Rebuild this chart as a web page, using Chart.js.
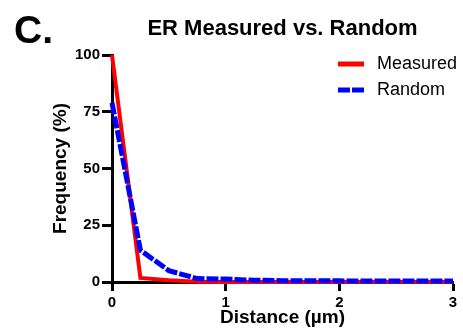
<!DOCTYPE html>
<html lang="en">

<head>
    <meta charset="UTF-8">
    <title>ER Measured vs. Random</title>
    <script src="https://cdn.jsdelivr.net/npm/chart.js"></script>
    <style>
        html, body {
            margin: 0;
            padding: 0;
            background: #fff;
        }
        #wrap {
            width: 463px;
            height: 331px;
        }
    </style>
</head>

<body>
    <div id="wrap"><canvas id="chart" width="463" height="331"></canvas></div>

    <script>
        const FONT = "'Liberation Sans', Arial, sans-serif";

        // distance bins (µm)
        const distances = [0, 0.25, 0.5, 0.75, 1, 1.25, 1.5, 1.75, 2, 2.25, 2.5, 2.75, 3];
        // frequency (%)
        const measured = [100, 1.8, 0.8, 0.1, 0, 0, 0, 0, 0, 0, 0, 0, 0];
        const random = [79, 14, 5, 1.5, 1.3, 0.8, 0.6, 0.5, 0.5, 0.4, 0.4, 0.4, 0.4];

        const xTicks = [0, 1, 2, 3];
        const yTicks = [0, 25, 50, 75, 100];

        const panelLabel = 'C.';
        const chartTitle = 'ER Measured vs. Random';

        const toPoints = vals => distances.map((d, i) => ({ x: d, y: vals[i] }));

        // title, panel letter and legend drawn on top of the chart
        const annotations = {
            id: 'annotations',
            afterDraw(chart) {
                const ctx = chart.ctx;
                const area = chart.chartArea;
                ctx.save();
                ctx.fillStyle = '#000';
                ctx.textBaseline = 'alphabetic';

                ctx.font = 'bold 39px ' + FONT;
                ctx.textAlign = 'left';
                ctx.fillText(panelLabel, 14, 43);

                ctx.font = 'bold 22px ' + FONT;
                ctx.textAlign = 'center';
                ctx.fillText(chartTitle, (area.left + area.right) / 2, 35);

                // legend
                chart.data.datasets.forEach((ds, i) => {
                    const y = 64 + i * 26;
                    ctx.beginPath();
                    ctx.strokeStyle = ds.borderColor;
                    ctx.lineWidth = 5;
                    ctx.lineCap = 'butt';
                    ctx.setLineDash(ds.borderDash || []);
                    ctx.moveTo(338, y);
                    ctx.lineTo(364, y);
                    ctx.stroke();
                    ctx.setLineDash([]);
                    ctx.font = '18px ' + FONT;
                    ctx.textAlign = 'left';
                    ctx.textBaseline = 'middle';
                    ctx.fillStyle = '#000';
                    ctx.fillText(ds.label, 377, y);
                });
                ctx.restore();
            }
        };

        const chart = new Chart(document.getElementById('chart'), {
            type: 'line',
            data: {
                datasets: [{
                    label: 'Measured',
                    data: toPoints(measured),
                    borderColor: '#ff0000',
                    borderWidth: 4,
                    borderJoinStyle: 'miter',
                    pointRadius: 0,
                    tension: 0,
                    fill: false,
                    clip: 10,
                    order: 2
                }, {
                    label: 'Random',
                    data: toPoints(random),
                    borderColor: '#0000ff',
                    borderWidth: 5,
                    borderDash: [12, 2],
                    borderJoinStyle: 'miter',
                    pointRadius: 0,
                    tension: 0,
                    fill: false,
                    clip: 10,
                    order: 1
                }]
            },
            options: {
                responsive: false,
                animation: false,
                layout: {
                    padding: { left: 0, right: 10, top: 55, bottom: 0 }
                },
                plugins: {
                    legend: { display: false },
                    tooltip: { enabled: false }
                },
                scales: {
                    x: {
                        type: 'linear',
                        min: 0,
                        max: 3,
                        afterFit: scale => { scale.height = 49; },
                        afterBuildTicks: scale => { scale.ticks = xTicks.map(v => ({ value: v })); },
                        border: { color: '#000', width: 3 },
                        grid: { drawOnChartArea: false, tickLength: 9, tickWidth: 3, tickColor: '#000' },
                        ticks: {
                            padding: 3,
                            color: '#000',
                            font: { family: FONT, size: 15, weight: 'bold' }
                        },
                        title: {
                            display: true,
                            text: 'Distance (µm)',
                            color: '#000',
                            padding: { top: 0, bottom: 4 },
                            font: { family: FONT, size: 19, weight: 'bold', lineHeight: 1 }
                        }
                    },
                    y: {
                        min: 0,
                        max: 100,
                        afterFit: scale => { scale.width = 112; },
                        afterBuildTicks: scale => { scale.ticks = yTicks.map(v => ({ value: v })); },
                        border: { color: '#000', width: 3 },
                        grid: { drawOnChartArea: false, tickLength: 10, tickWidth: 3, tickColor: '#000' },
                        ticks: {
                            padding: 2,
                            color: '#000',
                            font: { family: FONT, size: 15, weight: 'bold' }
                        },
                        title: {
                            display: true,
                            text: 'Frequency (%)',
                            color: '#000',
                            padding: { top: 51, bottom: 0 },
                            font: { family: FONT, size: 19, weight: 'bold', lineHeight: 1 }
                        }
                    }
                }
            },
            plugins: [annotations]
        });
    </script>
</body>

</html>
